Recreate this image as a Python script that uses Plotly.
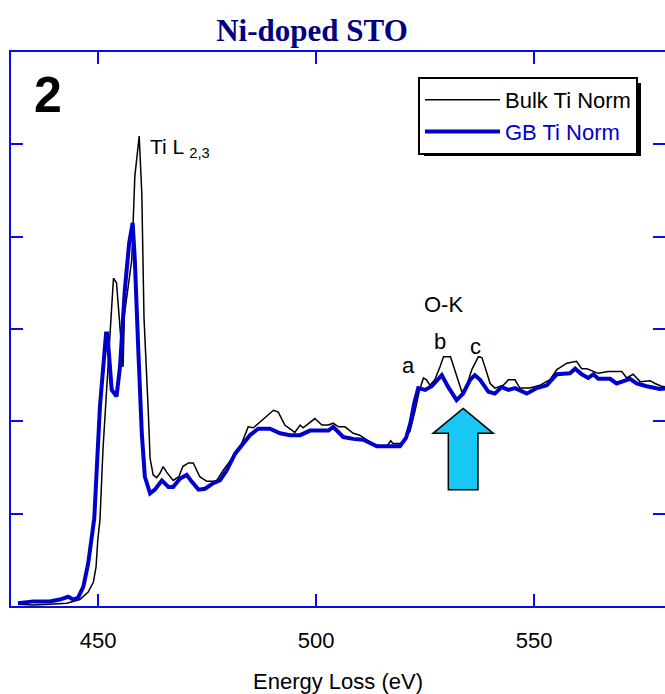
import plotly.graph_objects as go

# ---- data ----
bulk_energy = [431.6, 435.0, 438.9, 442.8, 445.8, 447.7, 448.9, 449.5, 449.9, 450.4,
               451.1, 451.9, 452.6, 453.5, 454.2, 455.0, 455.7, 456.0, 457.0, 457.7,
               458.4, 459.4, 460.0, 460.5, 461.5, 461.9, 462.6, 463.4, 464.2, 464.9,
               465.7, 467.2, 468.5, 469.4, 470.7, 471.8, 473.3, 474.9, 476.4, 477.2,
               478.7, 481.0, 482.9, 484.4, 485.6, 487.9, 490.2, 491.3, 492.8, 495.1,
               496.3, 497.0, 499.7, 501.3, 502.8, 503.9, 505.1, 506.6, 508.5, 510.0,
               511.6, 513.9, 516.2, 517.1, 517.6, 519.6, 521.5, 522.7, 523.7, 524.6,
               525.3, 526.1, 527.2, 528.4, 529.2, 530.8, 531.8, 532.8, 533.4, 534.4,
               535.7, 537.2, 538.0, 538.9, 539.9, 541.0, 542.9, 544.1, 545.6, 546.7,
               549.0, 551.3, 553.6, 555.2, 557.5, 559.7, 560.9, 562.1, 564.7, 567.0,
               570.1, 571.2, 572.7, 574.3, 576.6, 577.7, 579.2, 580.5]
bulk_norm = [0.02, 0.01, 0.02, 0.03, 0.07, 0.15, 0.26, 0.42, 0.71, 0.93,
             1.70, 2.34, 2.90, 3.55, 3.50, 3.00, 2.59, 3.15, 3.50, 3.75,
             4.65, 5.09, 4.47, 3.13, 2.09, 1.60, 1.42, 1.39, 1.44, 1.51,
             1.45, 1.36, 1.40, 1.51, 1.55, 1.55, 1.40, 1.35, 1.35, 1.36,
             1.47, 1.62, 1.76, 1.94, 1.93, 2.03, 2.12, 2.10, 1.96, 1.88,
             1.96, 1.93, 2.03, 1.96, 1.96, 1.98, 1.94, 1.94, 1.87, 1.85,
             1.80, 1.74, 1.73, 1.79, 1.76, 1.76, 1.89, 2.12, 2.34, 2.47,
             2.45, 2.39, 2.45, 2.59, 2.70, 2.70, 2.56, 2.41, 2.32, 2.37,
             2.56, 2.70, 2.69, 2.56, 2.41, 2.36, 2.39, 2.45, 2.45, 2.36,
             2.36, 2.39, 2.45, 2.56, 2.63, 2.65, 2.57, 2.57, 2.52, 2.54,
             2.54, 2.47, 2.51, 2.43, 2.44, 2.41, 2.38, 2.37]

gb_energy = [431.6, 435.1, 438.9, 441.2, 443.1, 444.3, 445.4, 446.6, 447.7, 448.5,
             449.1, 450.4, 451.8, 452.1, 453.1, 454.2, 455.0, 456.1, 457.1, 457.9,
             458.4, 459.2, 460.0, 460.7, 461.9, 463.0, 464.6, 466.1, 467.2, 468.8,
             470.3, 471.4, 473.0, 474.5, 476.4, 477.9, 479.5, 481.4, 483.3, 484.8,
             486.7, 489.4, 491.7, 494.0, 496.3, 498.6, 500.9, 502.8, 503.9, 506.2,
             508.5, 510.8, 513.9, 516.2, 519.2, 520.6, 521.6, 522.5, 523.4, 525.0,
             526.5, 528.8, 530.3, 532.2, 533.7, 535.3, 536.4, 537.6, 539.5, 541.0,
             542.5, 544.1, 545.6, 548.3, 550.6, 552.9, 555.2, 558.2, 559.4, 560.9,
             562.4, 563.6, 564.7, 567.4, 568.9, 572.0, 573.5, 575.8, 578.8, 580.5]
gb_norm = [0.03, 0.05, 0.05, 0.07, 0.10, 0.07, 0.09, 0.21, 0.46, 0.75,
           0.95, 2.16, 2.95, 2.95, 2.34, 2.27, 2.59, 3.42, 3.93, 4.15,
           3.75, 2.77, 1.87, 1.40, 1.22, 1.26, 1.36, 1.29, 1.29, 1.38,
           1.42, 1.35, 1.26, 1.27, 1.33, 1.36, 1.47, 1.65, 1.76, 1.85,
           1.92, 1.92, 1.87, 1.85, 1.85, 1.90, 1.90, 1.90, 1.94, 1.83,
           1.81, 1.80, 1.73, 1.73, 1.73, 1.82, 1.98, 2.20, 2.36, 2.34,
           2.38, 2.50, 2.37, 2.23, 2.30, 2.45, 2.50, 2.45, 2.32, 2.30,
           2.37, 2.34, 2.36, 2.30, 2.36, 2.39, 2.51, 2.52, 2.57, 2.51,
           2.47, 2.51, 2.46, 2.46, 2.41, 2.46, 2.41, 2.38, 2.35, 2.36]

x_ticks = [450, 500, 550]
x_range = [430, 580]
y_range = [0, 6]

# peak labels: (text, energy, intensity)
peak_labels = [("O-K", 529.1, 3.26), ("a", 521.1, 2.61), ("b", 528.4, 2.86), ("c", 536.6, 2.81)]

# arrow marking the GB dip
arrow_tip = (533.7, 2.14)
arrow_head_base_y = 1.87
arrow_tail_y = 1.26
arrow_head_half = 6.9
arrow_shaft_half = 3.4

FRAME = "#0a0aee"
GB_COLOR = "#0000cc"
FONT = "Arial, Liberation Sans, sans-serif"

W, H = 665, 694
ML, MR, MT, MB = 11, 0, 52, 88
PW, PH = W - ML - MR, H - MT - MB


def px_x(p):
    return (p - ML) / PW


def px_y(p):
    return 1 - (p - MT) / PH


fig = go.Figure()
fig.add_trace(go.Scatter(x=bulk_energy, y=bulk_norm, mode="lines", name="Bulk Ti Norm",
                         line=dict(color="black", width=1.5)))
fig.add_trace(go.Scatter(x=gb_energy, y=gb_norm, mode="lines",
                         name="<span style='color:%s'>GB Ti Norm</span>" % GB_COLOR,
                         line=dict(color=GB_COLOR, width=4)))
# invisible trace carrying the right-hand tick axis
fig.add_trace(go.Scatter(x=[x_range[0]], y=[y_range[0]], yaxis="y2", mode="markers",
                         marker=dict(opacity=0, size=1), showlegend=False, hoverinfo="skip"))

ax, ay = arrow_tip
path = ("M {tx},{ty} L {r1},{hb} L {r2},{hb} L {r2},{tl} L {l2},{tl} L {l2},{hb} L {l1},{hb} Z"
        .format(tx=ax, ty=ay, r1=ax + arrow_head_half, r2=ax + arrow_shaft_half,
                l1=ax - arrow_head_half, l2=ax - arrow_shaft_half,
                hb=arrow_head_base_y, tl=arrow_tail_y))

fig.update_layout(
    width=W, height=H,
    margin=dict(l=ML, r=MR, t=MT, b=MB, autoexpand=False),
    plot_bgcolor="white", paper_bgcolor="white",
    font=dict(family=FONT, size=22, color="black"),
    title=dict(text="<b>Ni-doped STO</b>", x=312 / W, xanchor="center", xref="container",
               y=1 - 30 / H, yanchor="middle", yref="container",
               font=dict(family="Liberation Serif, Times New Roman, serif", size=31, color="#000080")),
    xaxis=dict(range=x_range, tickvals=x_ticks, ticks="inside", ticklen=12, tickwidth=2,
               tickcolor=FRAME, showline=True, linecolor=FRAME, linewidth=2, mirror="ticks",
               showgrid=False, zeroline=False, ticklabelstandoff=14, automargin=False,
               tickfont=dict(size=22, family=FONT),
               title=dict(text="Energy Loss (eV)", standoff=22, font=dict(size=22, family=FONT))),
    yaxis=dict(range=y_range, dtick=1, ticks="inside", ticklen=12, tickwidth=2, tickcolor=FRAME,
               showline=True, linecolor=FRAME, linewidth=2, showticklabels=False,
               showgrid=False, zeroline=False, automargin=False),
    yaxis2=dict(range=y_range, dtick=1, ticks="inside", ticklen=12, tickwidth=2, tickcolor=FRAME,
                overlaying="y", side="right", showline=False, showticklabels=False,
                showgrid=False, zeroline=False, automargin=False),
    legend=dict(x=px_x(418), y=px_y(77), xanchor="left", yanchor="top",
                bgcolor="white", bordercolor="black", borderwidth=2, itemwidth=75,
                font=dict(size=22, family=FONT, color="black"), tracegroupgap=0),
    showlegend=True,
)

fig.add_shape(type="path", path=path, xref="x", yref="y",
              fillcolor="#19c8f2", line=dict(color="black", width=1.5), layer="above")

# legend drop shadow
fig.add_shape(type="rect", xref="paper", yref="paper",
              x0=px_x(424), x1=px_x(641), y0=px_y(156), y1=px_y(83),
              fillcolor="black", line=dict(width=0), layer="above")

fig.add_annotation(x=438.5, y=5.53, text="<b>2</b>", showarrow=False,
                   font=dict(size=50, family=FONT, color="black"))
fig.add_annotation(x=461.4, y=4.96, text="Ti L <sub>2,3</sub>", showarrow=False, xanchor="left",
                   font=dict(size=21, family=FONT, color="black"))
for txt, ex, ey in peak_labels:
    fig.add_annotation(x=ex, y=ey, text=txt, showarrow=False,
                       font=dict(size=22, family=FONT, color="black"))

fig.write_html("out.html", config={"displayModeBar": False},
               post_script="document.body.style.margin='0px';document.body.style.overflow='hidden';")
